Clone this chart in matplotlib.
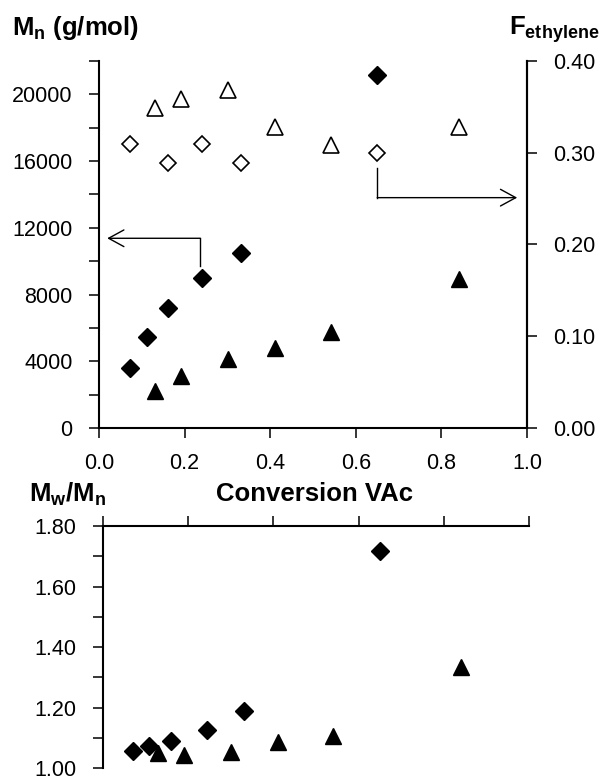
import matplotlib.pyplot as plt
from matplotlib.ticker import MultipleLocator, FormatStrFormatter

plt.rcParams['font.family'] = ['Liberation Sans', 'DejaVu Sans']
plt.rcParams['mathtext.fontset'] = 'custom'
plt.rcParams['mathtext.bf'] = 'Liberation Sans:bold'
plt.rcParams['mathtext.rm'] = 'Liberation Sans'

# conversion of VAc
x_dia = [0.072, 0.112, 0.162, 0.240, 0.331, 0.650]
x_tri = [0.131, 0.192, 0.301, 0.411, 0.542, 0.841]

# Mn (g/mol), filled markers, left axis
mn_dia = [3600, 5450, 7200, 9000, 10500, 21150]
mn_tri = [2200, 3100, 4150, 4800, 5750, 8950]

# F ethylene, open markers, right axis
f_dia = [0.310, 0.289, 0.310, 0.289, 0.300]
f_dia_x = [0.072, 0.162, 0.240, 0.331, 0.650]
f_tri = [0.349, 0.359, 0.368, 0.328, 0.308, 0.328]

# Mw/Mn
pdi_dia = [1.055, 1.072, 1.088, 1.127, 1.189, 1.719]
pdi_dia_x = [0.070, 0.108, 0.160, 0.244, 0.331, 0.650]
pdi_tri = [1.050, 1.042, 1.052, 1.085, 1.107, 1.335]
pdi_tri_x = [0.130, 0.190, 0.300, 0.411, 0.540, 0.840]

# arrows (start of elbow, corner, end)
arrow_left = [(0.236, 9700), (0.236, 11370), (0.019, 11370)]
arrow_right = [(0.650, 0.283), (0.650, 0.251), (0.977, 0.251)]

fig = plt.figure(figsize=(6.02, 7.81), dpi=100)
ax1 = fig.add_axes([0.1645, 0.452, 0.711, 0.470])
ax2 = ax1.twinx()
ax3 = fig.add_axes([0.171, 0.0165, 0.708, 0.310])

tick_fs = 15.5
lw = 1.5

ax1.plot(x_dia, mn_dia, 'D', color='black', ms=8.8, ls='none')
ax1.plot(x_tri, mn_tri, '^', color='black', ms=11.5, ls='none')
ax2.plot(f_dia_x, f_dia, 'D', mfc='white', mec='black', mew=1.2, ms=8.0, ls='none')
ax2.plot(x_tri, f_tri, '^', mfc='white', mec='black', mew=1.2, ms=11.0, ls='none')

ax1.set_xlim(0, 1.0)
ax1.set_ylim(0, 22000)
ax2.set_ylim(0, 0.40)

ax1.xaxis.set_major_locator(MultipleLocator(0.2))
ax1.xaxis.set_major_formatter(FormatStrFormatter('%.1f'))
ax1.yaxis.set_major_locator(MultipleLocator(4000))
ax1.yaxis.set_minor_locator(MultipleLocator(2000))
ax2.yaxis.set_major_locator(MultipleLocator(0.1))
ax2.yaxis.set_major_formatter(FormatStrFormatter('%.2f'))

for a in (ax1, ax2):
    a.spines['top'].set_visible(False)
    for s in a.spines.values():
        s.set_linewidth(lw)
ax2.spines['left'].set_visible(False)
ax2.spines['bottom'].set_visible(False)

ax1.tick_params(axis='both', which='both', direction='out', length=7, width=1.1,
                labelsize=tick_fs, pad=12)
ax1.tick_params(axis='x', pad=11)
ax2.tick_params(axis='y', which='both', direction='out', length=7, width=1.1,
                labelsize=tick_fs, pad=12)

# arrows
(xa, ya), (xb, yb), (xc, yc) = arrow_left
ax1.plot([xa, xb], [ya, yb], color='black', lw=1.0)
ax1.annotate('', xy=(xc, yc), xytext=(xb, yb),
             arrowprops=dict(arrowstyle='->,head_length=0.55,head_width=0.3',
                             color='black', lw=1.0, mutation_scale=20,
                             shrinkA=0, shrinkB=0))
(xa, ya), (xb, yb), (xc, yc) = arrow_right
ax2.plot([xa, xb], [ya, yb], color='black', lw=1.0)
ax2.annotate('', xy=(xc, yc), xytext=(xb, yb),
             arrowprops=dict(arrowstyle='->,head_length=0.55,head_width=0.3',
                             color='black', lw=1.0, mutation_scale=20,
                             shrinkA=0, shrinkB=0))

# bottom panel
ax3.plot(pdi_dia_x, pdi_dia, 'D', color='black', ms=8.8, ls='none', clip_on=False)
ax3.plot(pdi_tri_x, pdi_tri, '^', color='black', ms=11.5, ls='none', clip_on=False)
ax3.set_xlim(0, 1.0)
ax3.set_ylim(1.0, 1.8)
ax3.xaxis.set_major_locator(MultipleLocator(0.2))
ax3.yaxis.set_major_locator(MultipleLocator(0.2))
ax3.yaxis.set_minor_locator(MultipleLocator(0.1))
ax3.yaxis.set_major_formatter(FormatStrFormatter('%.2f'))
ax3.xaxis.tick_top()
ax3.spines['bottom'].set_visible(False)
ax3.spines['right'].set_visible(False)
for s in ax3.spines.values():
    s.set_linewidth(lw)
ax3.tick_params(axis='x', which='both', direction='out', length=7, width=1.1,
                labeltop=False, labelbottom=False)
ax3.tick_params(axis='y', which='both', direction='out', length=7, width=1.1,
                labelsize=tick_fs, pad=12)

# labels
lab_fs = 18.5
fig.text(0.020, 0.955, r'$\mathbf{M_n}$ (g/mol)', fontsize=lab_fs, fontweight='bold',
         ha='left', va='baseline')
fig.text(0.995, 0.955, r'$\mathbf{F_{ethylene}}$', fontsize=lab_fs, fontweight='bold',
         ha='right', va='baseline')
fig.text(0.048, 0.357, r'$\mathbf{M_w/M_n}$', fontsize=lab_fs, fontweight='bold',
         ha='left', va='baseline')
fig.text(0.522, 0.359, 'Conversion VAc', fontsize=lab_fs, fontweight='bold',
         ha='center', va='baseline')

fig.savefig('out.png', dpi=100)
